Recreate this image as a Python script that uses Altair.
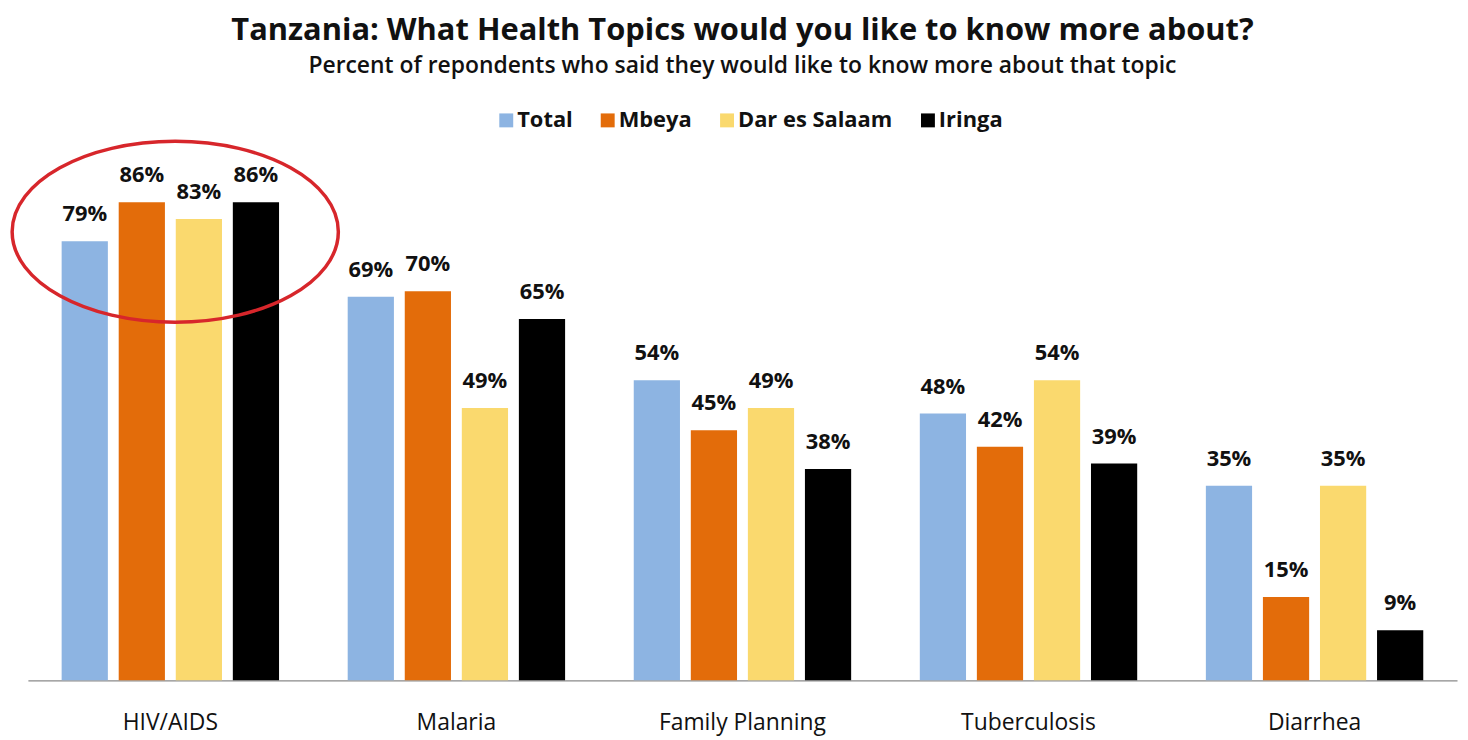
import altair as alt
import pandas as pd

categories = ["HIV/AIDS", "Malaria", "Family Planning", "Tuberculosis", "Diarrhea"]
series = ["Total", "Mbeya", "Dar es Salaam", "Iringa"]
total = [79, 69, 54, 48, 35]
mbeya = [86, 70, 45, 42, 15]
dar = [83, 49, 49, 54, 35]
iringa = [86, 65, 38, 39, 9]
colors = ["#8DB4E2", "#E36C0A", "#FAD96E", "#000000"]

highlight_topic = ["HIV/AIDS"]
highlight_value = [80.7]

rows = []
for i, c in enumerate(categories):
    for s, vals in zip(series, [total, mbeya, dar, iringa]):
        rows.append({"topic": c, "region": s, "value": vals[i], "label": f"{vals[i]}%"})
df = pd.DataFrame(rows)
hl = pd.DataFrame({"topic": highlight_topic, "value": highlight_value})

x = alt.X("topic:N", sort=categories,
          scale=alt.Scale(domain=categories, paddingInner=0.24, paddingOuter=0.118),
          axis=alt.Axis(title=None, labelAngle=0, ticks=False, domainColor="#8a8a8a",
                        domainWidth=1.2, labelFont="Open Sans", labelFontSize=23,
                        labelPadding=31, labelColor="#111"))
y = alt.Y("value:Q", scale=alt.Scale(domain=[0, 90]), axis=None)
xo = alt.XOffset("region:N", sort=series,
                 scale=alt.Scale(domain=series, paddingInner=0.19, paddingOuter=0))
color = alt.Color("region:N", sort=series,
                  scale=alt.Scale(domain=series, range=colors),
                  legend=alt.Legend(title=None, orient="none", direction="horizontal",
                                    legendX=470, legendY=-71, symbolType="square",
                                    symbolSize=196, symbolStrokeWidth=0,
                                    labelFont="Open Sans", labelFontSize=22,
                                    labelFontWeight="bold", labelColor="#111",
                                    labelOffset=0, columnPadding=24))

bars = alt.Chart(df).mark_bar().encode(x=x, y=y, xOffset=xo, color=color)
text = alt.Chart(df).mark_text(baseline="alphabetic", dy=-20, font="Open Sans",
                               fontWeight="bold", fontSize=22, color="#111").encode(
    x=x, y=y, xOffset=xo, text="label:N")

ellipse_path = "M-0.97,0 A1,0.555 0 1,1 1.03,0 A1,0.555 0 1,1 -0.97,0 Z"
ring = alt.Chart(hl).mark_point(shape=ellipse_path, size=328 * 328, filled=False,
                                stroke="#D7262B", strokeWidth=3.5, opacity=1).encode(
    x=alt.X("topic:N", sort=categories), y="value:Q")

chart = alt.layer(bars, text, ring).properties(
    width=1437, height=503,
    title=alt.TitleParams(
        text="Tanzania: What Health Topics would you like to know more about?",
        subtitle="Percent of repondents who said they would like to know more about that topic",
        font="Open Sans", fontSize=31, fontWeight="bold", color="#111",
        subtitleFont="Open Sans", subtitleFontSize=23, subtitleFontWeight=600,
        subtitleColor="#111",
        anchor="middle", offset=31, subtitlePadding=8),
    autosize=alt.AutoSizeParams(type="none"),
    padding={"left": 20, "top": 171, "right": 3, "bottom": 55},
).configure_view(stroke=None)

chart.save("out.html", embed_options={"renderer": "svg", "actions": False})
